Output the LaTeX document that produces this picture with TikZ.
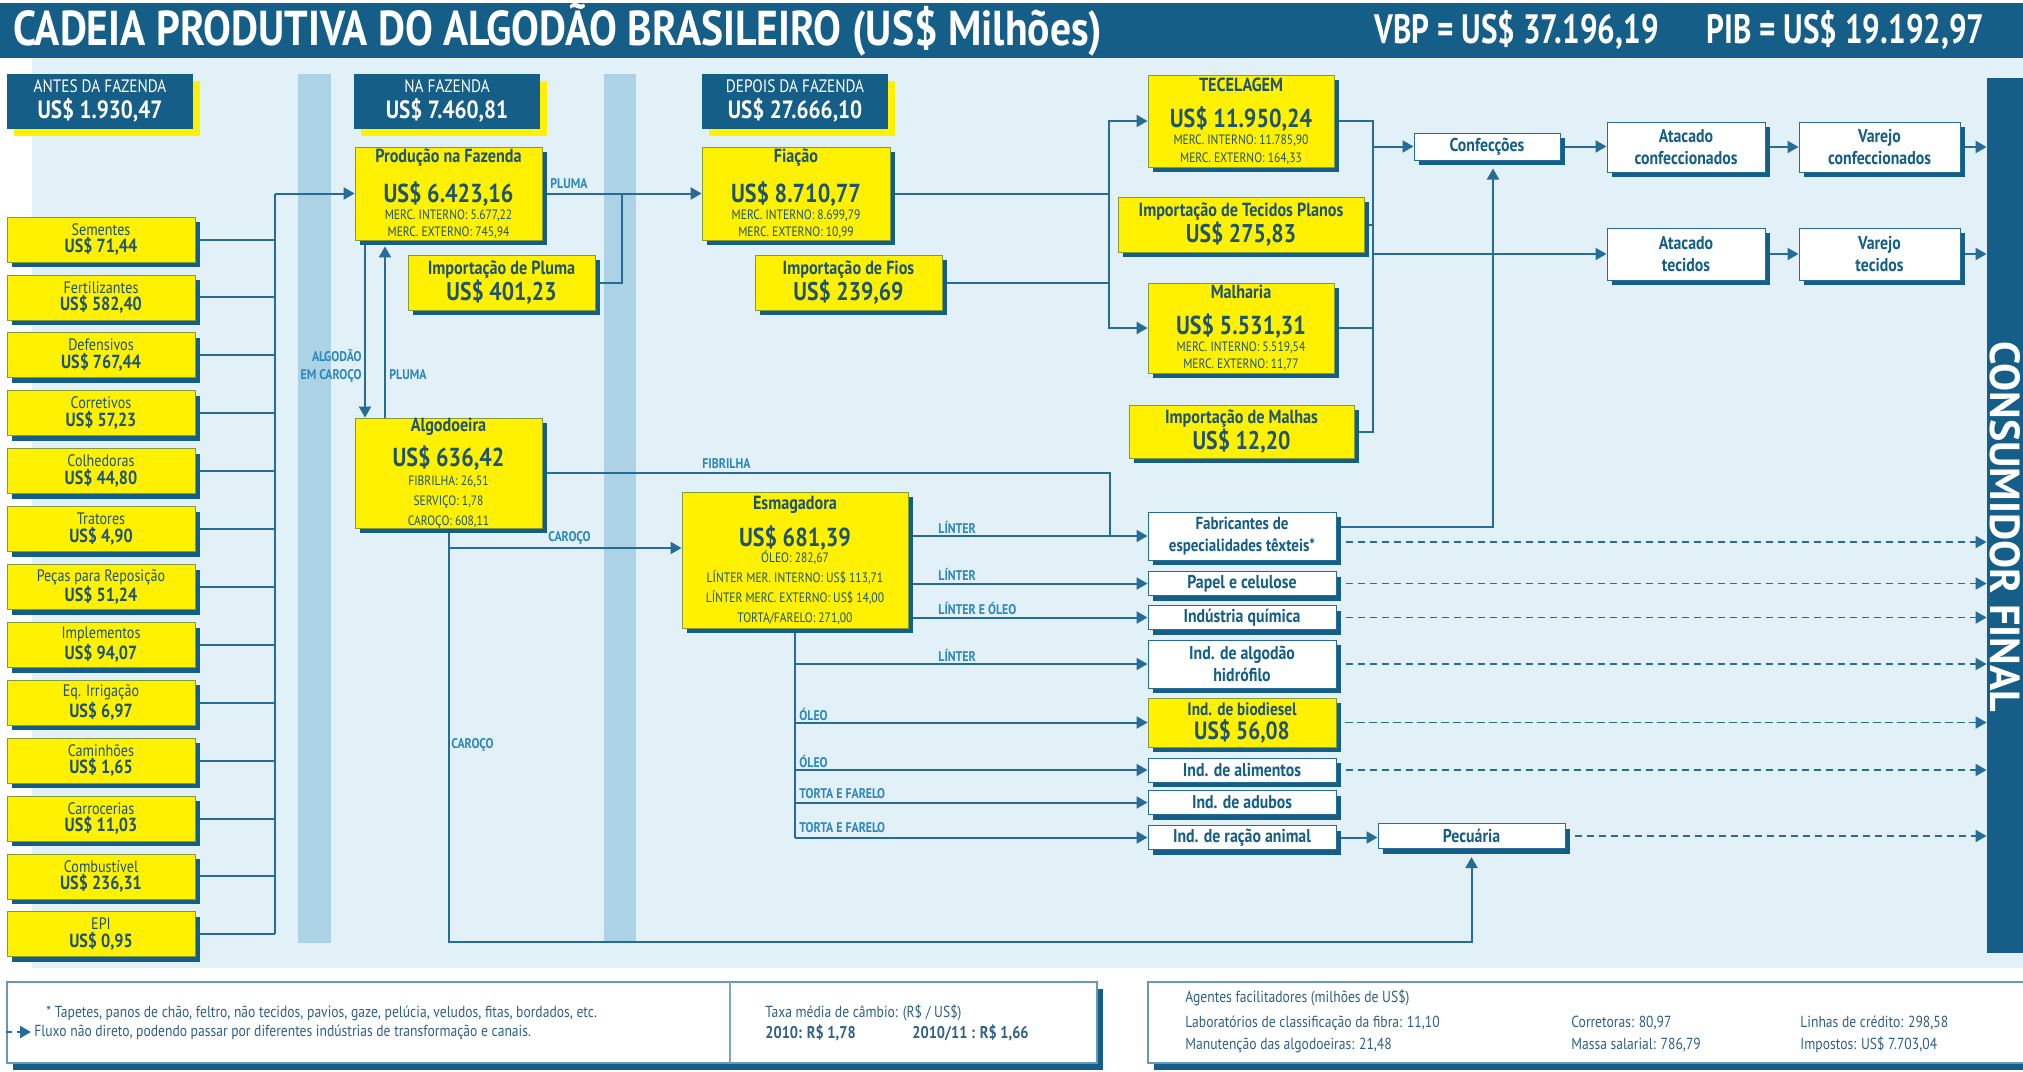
\documentclass[tikz,border=0pt]{standalone}
\usepackage{fontspec}
\setmainfont{PT Sans}[FakeStretch=0.85]
\newfontfamily\widefont{PT Sans}
\newfontfamily\condfont{PT Sans}[FakeStretch=0.76]
\usetikzlibrary{arrows.meta,shadows,calc}
\definecolor{dblue}{RGB}{20,94,135}
\definecolor{lineb}{RGB}{38,108,150}
\definecolor{panel}{RGB}{226,240,247}
\definecolor{band}{RGB}{172,211,229}
\definecolor{yel}{RGB}{255,241,0}
\definecolor{ytext}{RGB}{30,84,108}
\definecolor{lbl}{RGB}{45,135,188}
\definecolor{ftext}{RGB}{48,96,132}
\newcommand\myfs[2]{\fontsize{#1}{#2}\selectfont}
\pgfdeclarelayer{bg}
\pgfdeclarelayer{mid}
\pgfsetlayers{bg,mid,main}
\tikzset{
  sz/.style 2 args={minimum width=#1*0.5pt, minimum height=#2*0.5pt},
  shad/.style={general shadow={fill=dblue, shadow xshift=2.6pt, shadow yshift=-2.6pt}},
  ybox/.style={shad, fill=yel, draw=ytext!55!yel, line width=0.4pt, inner sep=0pt, align=center, text=ytext},
  wbox/.style={shad, fill=white, draw=lineb, line width=0.5pt, inner sep=0pt, align=center, text=dblue, font=\myfs{9.3}{11}\bfseries},
  hbox/.style={general shadow={fill=yel, shadow xshift=3.5pt, shadow yshift=-3.5pt}, fill=dblue, text=white, inner sep=0pt, align=center, font=\myfs{9}{13}},
  fbox/.style={general shadow={fill=dblue, shadow xshift=3pt, shadow yshift=-3.5pt}, fill=white, draw=lineb!70, line width=0.6pt, inner sep=0pt},
  conn/.style={draw=lineb, line width=1pt},
  arr/.style={conn, -{Triangle[length=5.5pt,width=6pt]}},
  darr/.style={arr, line width=0.9pt, dash pattern=on 3.6pt off 2.4pt},
  lab/.style={text=lbl, font=\myfs{7}{8}\bfseries, inner sep=0pt, anchor=west},
  ftxt/.style={text=ftext, font=\myfs{8}{9}, inner sep=0pt, anchor=west},
}
\begin{document}
\begin{tikzpicture}[x=0.5pt,y=-0.5pt]
\useasboundingbox (0,0) rectangle (2023,1071);
\begin{pgfonlayer}{bg}
\fill[white] (0,0) rectangle (2023,1071);
\fill[panel] (32,58) rectangle (2023,968);
\fill[band] (298,74) rectangle (331,943);
\fill[band] (604,74) rectangle (636,943);
\fill[dblue] (0,3) rectangle (2023,58);
\end{pgfonlayer}

% header texts
\node[anchor=west, text=white, font=\myfs{24.5}{24}\bfseries, inner sep=0pt] (title) at (13,30) {CADEIA PRODUTIVA DO ALGODÃO BRASILEIRO (US\$ Milhões)};
\node[anchor=west, text=white, font=\condfont\myfs{20.5}{20}\bfseries, inner sep=0pt] (vbp) at (1374,30) {VBP = US\$ 37.196,19};
\node[anchor=west, text=white, font=\condfont\myfs{20.5}{20}\bfseries, inner sep=0pt] (pib) at (1706,30) {PIB = US\$ 19.192,97};

% stage boxes
\node[hbox, sz={186}{55}] (antes) at (100,101) {ANTES DA FAZENDA\\{\myfs{12.5}{13}\bfseries US\$ 1.930,47}};
\node[hbox, sz={186}{55}] (naf) at (447,101) {NA FAZENDA\\{\myfs{12.5}{13}\bfseries US\$ 7.460,81}};
\node[hbox, sz={186}{55}] (dep) at (795,101) {DEPOIS DA FAZENDA\\{\myfs{12.5}{13}\bfseries US\$ 27.666,10}};

% inputs
\foreach \i/\a/\b in {0/Sementes/{71,44},1/Fertilizantes/{582,40},2/Defensivos/{767,44},3/Corretivos/{57,23},4/Colhedoras/{44,80},5/Tratores/{4,90},6/Peças para Reposição/{51,24},7/Implementos/{94,07},8/Eq. Irrigação/{6,97},9/Caminhões/{1,65},10/Carrocerias/{11,03},11/Combustível/{236,31},12/EPI/{0,95}}
  \node[ybox, sz={188}{45}, font=\myfs{8.3}{8.8}] (in\i) at (101,{239.5+57.9*\i}) {\a\\{\myfs{9.5}{9}\bfseries US\$ \b}};

% farm
\node[ybox, sz={187}{93}, font=\myfs{6.8}{8.6}] (prod) at (448.5,193.5)
 {{\myfs{9.5}{9}\bfseries Produção na Fazenda}\\[6.5pt]{\myfs{13}{13}\bfseries US\$ 6.423,16}\\MERC. INTERNO: 5.677,22\\MERC. EXTERNO: 745,94};
\node[ybox, sz={187}{55}, font=\myfs{9.5}{13}\bfseries] (imp) at (501.5,282.5) {Importação de Pluma\\{\myfs{12.8}{13}US\$ 401,23}};
\node[ybox, sz={187}{110}, font=\myfs{6.8}{9.8}] (algo) at (448.5,473)
 {{\myfs{9.5}{9}\bfseries Algodoeira}\\[4pt]{\myfs{13}{13}\bfseries US\$ 636,42}\\FIBRILHA: 26,51\\SERVIÇO: 1,78\\CAROÇO: 608,11};

% after farm
\node[ybox, sz={188}{93}, font=\myfs{6.8}{8.6}] (fia) at (796,193.5)
 {{\myfs{9.5}{9}\bfseries Fiação}\\[6.5pt]{\myfs{13}{13}\bfseries US\$ 8.710,77}\\MERC. INTERNO: 8.699,79\\MERC. EXTERNO: 10,99};
\node[ybox, sz={187}{55}, font=\myfs{9.5}{13}\bfseries] (fios) at (848.5,282.5) {Importação de Fios\\{\myfs{12.8}{13}US\$ 239,69}};
\node[ybox, sz={186}{92}, font=\myfs{6.8}{8.6}] (tec) at (1241,121)
 {{\myfs{9.5}{9}\bfseries TECELAGEM}\\[6.5pt]{\myfs{13}{13}\bfseries US\$ 11.950,24}\\MERC. INTERNO: 11.785,90\\MERC. EXTERNO: 164,33};
\node[ybox, sz={246}{55}, font=\myfs{9.5}{13}\bfseries] (tit) at (1241,224.5) {Importação de Tecidos Planos\\{\myfs{12.8}{13}US\$ 275,83}};
\node[ybox, sz={186}{90}, font=\myfs{6.8}{8.6}] (mal) at (1241,328)
 {{\myfs{9.5}{9}\bfseries Malharia}\\[6.5pt]{\myfs{13}{13}\bfseries US\$ 5.531,31}\\MERC. INTERNO: 5.519,54\\MERC. EXTERNO: 11,77};
\node[ybox, sz={225}{53}, font=\myfs{9.5}{13}\bfseries] (mlh) at (1241.5,431.5) {Importação de Malhas\\{\myfs{12.8}{13}US\$ 12,20}};
\node[ybox, sz={226}{136}, font=\myfs{6.8}{10}] (esm) at (795,560)
 {{\myfs{9.5}{9}\bfseries Esmagadora}\\[5pt]{\myfs{13}{13}\bfseries US\$ 681,39}\\[-2pt]ÓLEO: 282,67\\LÍNTER MER. INTERNO: US\$ 113,71\\LÍNTER MERC. EXTERNO: US\$ 14,00\\TORTA/FARELO: 271,00};

% white boxes
\node[wbox, sz={146}{27}] (conf) at (1487,146.5) {Confecções};
\node[wbox, sz={158}{50}] (atc1) at (1686,147) {Atacado\\confeccionados};
\node[wbox, sz={161}{50}] (vc1) at (1879.5,147) {Varejo\\confeccionados};
\node[wbox, sz={158}{52}] (atc2) at (1686,254) {Atacado\\tecidos};
\node[wbox, sz={161}{52}] (vc2) at (1879.5,254) {Varejo\\tecidos};
\node[wbox, sz={188}{48}, font=\myfs{8.8}{11}\bfseries] (fab) at (1242,536) {Fabricantes de\\especialidades têxteis*};
\node[wbox, sz={188}{24}] (pap) at (1242,583.5) {Papel e celulose};
\node[wbox, sz={188}{24}] (qui) at (1242,617.5) {Indústria química};
\node[wbox, sz={188}{48}] (hid) at (1242,664) {Ind. de algodão\\hidrófilo};
\node[ybox, sz={188}{49}, font=\myfs{9}{12}\bfseries] (bio) at (1242,722.5) {Ind. de biodiesel\\{\myfs{12.5}{12}US\$ 56,08}};
\node[wbox, sz={188}{24}] (ali) at (1242,770) {Ind. de alimentos};
\node[wbox, sz={188}{24}] (adu) at (1242,802.5) {Ind. de adubos};
\node[wbox, sz={188}{24}] (rac) at (1242,837.5) {Ind. de ração animal};
\node[wbox, sz={187}{25}] (pec) at (1471.5,836) {Pecuária};

% consumer bar
\node[fill=dblue, sz={36}{875}, inner sep=0pt] (cons) at (2005,515.5) {};
\node[rotate=-90, text=white, font=\widefont\myfs{21}{21}\bfseries, inner sep=0pt] (conslab) at (2005,527) {CONSUMIDOR FINAL};

% connectors
\begin{pgfonlayer}{mid}
\coordinate (bus) at (275,193.5);
\coordinate (busb) at (275,934.3);
\foreach \i in {0,...,12} \draw[conn] (in\i.east) -- (in\i.east -| bus);
\draw[conn] (busb) -- (bus);
\draw[arr] (bus) -- (prod.west);
\draw[arr] (prod.east) -- (fia.west);
\coordinate (pj) at (622,193.5);
\draw[conn] (imp.east) -| (pj);
\coordinate (xd) at (365,0);
\coordinate (xu) at (385,0);
\draw[arr] (prod.south -| xd) -- (algo.north -| xd);
\draw[arr] (algo.north -| xu) -- ($(prod.south -| xu)+(0,6)$);
\coordinate (fj) at (1110,536);
\draw[conn] (algo.east) -| (fj);
\coordinate (c1) at (0,548);
\coordinate (c2) at (0,942);
\draw[arr] (algo.south) |- (esm.west |- c1);
\draw[arr] (algo.south) -- (algo.south |- c2) -| ($(pec.south)+(0,8)$);
\draw[arr] (esm.east |- fab.west) -- (fab.west);
\draw[arr] (esm.east |- pap.west) -- (pap.west);
\draw[arr] (esm.east |- qui.west) -- (qui.west);
\draw[conn] (esm.south) -- (esm.south |- rac.west);
\foreach \n in {hid,bio,ali,adu,rac} \draw[arr] (esm.south |- \n.west) -- (\n.west);
\draw[arr] (rac.east) -- (rac.east -| pec.west);
\draw[darr] ($(fab.east)+(9,6)$) -- ($(fab.east -| cons.west)+(0,6)$);
\foreach \n in {pap,qui,hid,bio,ali,pec} \draw[darr] ($(\n.east)+(9,0)$) -- (\n.east -| cons.west);
\coordinate (fc) at (1493,527);
\draw[arr] (fab.east |- fc) -- (fc) -- ($(fc |- conf.south)+(0,8)$);
\coordinate (tj) at (1109,0);
\draw[arr] (fia.east) -| (tj |- tec.west) -- (tec.west);
\draw[arr] (tj |- fia.east) |- (mal.west);
\draw[conn] (fios.east) -- (tj |- fios.east);
\coordinate (rj) at (1373,0);
\draw[conn] (tec.east) -| (rj |- mlh.east) -- (mlh.east);
\draw[conn] (tit.east) -- (rj |- tit.east);
\draw[conn] (mal.east) -- (rj |- mal.east);
\draw[arr] (rj |- conf.west) -- (conf.west);
\draw[arr] (rj |- atc2.west) -- (atc2.west);
\draw[arr] (conf.east) -- (conf.east -| atc1.west);
\draw[arr] (atc1.east) -- (vc1.west);
\draw[arr] (vc1.east) -- (vc1.east -| cons.west);
\draw[arr] (atc2.east) -- (vc2.west);
\draw[arr] (vc2.east) -- (vc2.east -| cons.west);
\end{pgfonlayer}

% labels
\node[lab] (l1) at (550,184) {PLUMA};
\node[lab] (l2) at (389,375) {PLUMA};
\node[lab, anchor=east, align=right, font=\myfs{7}{9}\bfseries] (l3) at (362,366) {ALGODÃO\\EM CAROÇO};
\node[lab] (l4) at (702,464) {FIBRILHA};
\node[lab] (l5) at (548,538) {CAROÇO};
\node[lab] (l6) at (451,745) {CAROÇO};
\node[lab] (l7) at (938,527) {LÍNTER};
\node[lab] (l8) at (938,574) {LÍNTER};
\node[lab] (l9) at (938,608) {LÍNTER E ÓLEO};
\node[lab] (l10) at (938,655) {LÍNTER};
\node[lab] (l11) at (799,714) {ÓLEO};
\node[lab] (l12) at (799,761) {ÓLEO};
\node[lab] (l13) at (799,794) {TORTA E FARELO};
\node[lab] (l14) at (799,828) {TORTA E FARELO};

% footer
\node[fbox, sz={1090}{81}] (foot1) at (552,1022.5) {};
\node[fbox, sz={880}{81}] (foot2) at (1588,1022.5) {};
\draw[draw=lineb!60, line width=0.6pt] (730,982) -- (730,1063);
\coordinate (lg1) at (6,1032);
\coordinate (lg2) at (31,1032);
\draw[darr, dash pattern=on 3pt off 2.5pt] (lg1) -- (lg2);
\node[ftxt] (f1) at (46,1013) {* Tapetes, panos de chão, feltro, não tecidos, pavios, gaze, pelúcia, veludos, fitas, bordados, etc.};
\node[ftxt] (f2) at (34,1032) {Fluxo não direto, podendo passar por diferentes indústrias de transformação e canais.};
\node[ftxt] (f3) at (765,1013) {Taxa média de câmbio: (R\$ / US\$)};
\node[ftxt, font=\myfs{8.5}{9}\bfseries] (f4) at (765,1033) {2010: R\$ 1,78};
\node[ftxt, font=\myfs{8.5}{9}\bfseries] (f5) at (912,1033) {2010/11 : R\$ 1,66};
\node[ftxt] (g1) at (1185,998) {Agentes facilitadores (milhões de US\$)};
\node[ftxt] (g2) at (1185,1023) {Laboratórios de classificação da fibra: 11,10};
\node[ftxt] (g3) at (1185,1045) {Manutenção das algodoeiras: 21,48};
\node[ftxt] (g4) at (1571,1023) {Corretoras: 80,97};
\node[ftxt] (g5) at (1571,1045) {Massa salarial: 786,79};
\node[ftxt] (g6) at (1800,1023) {Linhas de crédito: 298,58};
\node[ftxt] (g7) at (1800,1045) {Impostos: US\$ 7.703,04};
\end{tikzpicture}
\end{document}
